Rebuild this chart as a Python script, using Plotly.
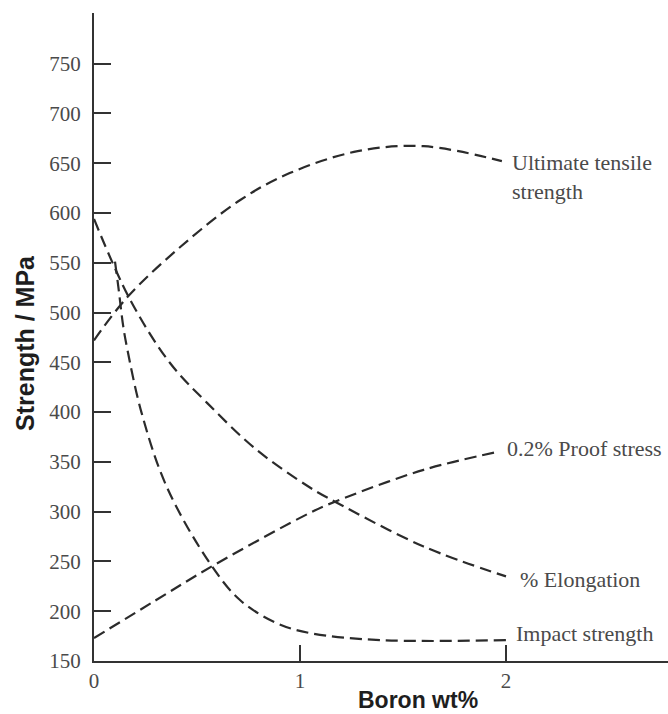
import plotly.graph_objects as go

# Data (Boron wt% vs Strength / MPa)
uts_x = [0.0, 0.16, 0.42, 0.71, 0.95, 1.28, 1.60, 1.98]
uts_y = [472, 515, 566, 613, 640, 662, 667, 652]

elong_x = [0.0, 0.175, 0.37, 0.55, 0.79, 1.05, 1.17, 1.60, 2.0]
elong_y = [594, 513, 449, 409, 362, 324, 310, 265, 235]

proof_x = [0.0, 0.30, 0.58, 1.05, 1.17, 1.60, 1.96]
proof_y = [173, 211, 246, 299, 310, 342, 360]

impact_x = [0.102, 0.118, 0.142, 0.16, 0.23, 0.353, 0.563, 0.71, 0.887, 1.05, 1.39, 2.0]
impact_y = [551, 526, 486, 465, 400, 325, 248, 211, 188, 178, 171, 171]

y_ticks = [150, 200, 250, 300, 350, 400, 450, 500, 550, 600, 650, 700, 750]
x_ticks = [0, 1, 2]

line_color = "#2b2b2b"
text_color = "#4a4a4a"
serif = "Liberation Serif, Times New Roman, serif"
sans = "Liberation Sans, Arial, sans-serif"

W, H = 668, 714
ml, mr, mt, mb = 94, 0, 13, 53
pw, ph = W - ml - mr, H - mt - mb
PX_PER_X = 206.0
PX_PER_Y = 0.9957

fig = go.Figure()
for xs, ys in [(uts_x, uts_y), (elong_x, elong_y), (proof_x, proof_y), (impact_x, impact_y)]:
    fig.add_trace(go.Scatter(
        x=xs, y=ys, mode="lines",
        line=dict(color=line_color, width=2.2, dash="12px,6px", shape="spline", smoothing=1.0),
        showlegend=False, hoverinfo="skip",
    ))

labels = [
    (2.02, 160, "Ultimate tensile<br>strength"),
    (1.995, 448, "0.2% Proof stress"),
    (2.06, 579, "% Elongation"),
    (2.04, 633, "Impact strength"),
]
for lx, py, txt in labels:
    multi = "<br>" in txt
    fig.add_annotation(
        x=lx, y=150 + (661 - py) / PX_PER_Y, xref="x", yref="y",
        text=txt, showarrow=False, xanchor="left",
        yanchor="top" if multi else "middle",
        yshift=12 if multi else 0,
        align="left",
        font=dict(family=serif, size=22, color=text_color),
    )

fig.add_annotation(
    x=(418 - ml) / pw, y=(H - 700 - mb) / ph, xref="paper", yref="paper",
    xanchor="center", yanchor="middle",
    text="<b>Boron wt%</b>", showarrow=False,
    font=dict(family=sans, size=23, color="#1e1e1e"),
)
fig.add_annotation(
    x=(25 - ml) / pw, y=(H - 343 - mb) / ph, xref="paper", yref="paper",
    xanchor="center", yanchor="middle",
    text="<b>Strength / MPa</b>", showarrow=False, textangle=-90,
    font=dict(family=sans, size=25, color="#1e1e1e"),
)

fig.update_layout(
    width=W, height=H,
    margin=dict(l=ml, r=mr, t=mt, b=mb, pad=0),
    paper_bgcolor="white", plot_bgcolor="white",
    xaxis=dict(
        range=[0, pw / PX_PER_X], tickvals=x_ticks, ticktext=[str(v) for v in x_ticks],
        ticks="inside", ticklen=16, tickwidth=1.5, tickcolor="#333",
        showline=True, linecolor="#333", linewidth=2, showgrid=False, zeroline=False,
        tickfont=dict(family=serif, size=21, color=text_color),
        fixedrange=True,
    ),
    yaxis=dict(
        range=[150, 150 + ph / PX_PER_Y], tickvals=y_ticks, ticktext=[str(v) for v in y_ticks],
        ticks="inside", ticklen=17, tickwidth=1.5, tickcolor="#333",
        showline=True, linecolor="#333", linewidth=2, showgrid=False, zeroline=False,
        tickfont=dict(family=serif, size=21, color=text_color),
        ticklabelstandoff=7,
        fixedrange=True,
    ),
)

fig.write_html("out.html")
